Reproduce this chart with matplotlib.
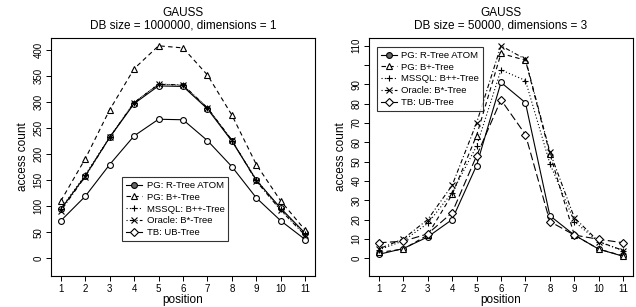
import matplotlib
matplotlib.use("Agg")
import matplotlib.pyplot as plt
from matplotlib.lines import Line2D

plt.rcParams['font.family'] = ['Liberation Sans', 'DejaVu Sans']

positions = list(range(1, 12))
series_names = ["PG: R-Tree ATOM", "PG: B+-Tree", "MSSQL: B++-Tree",
                "Oracle: B*-Tree", "TB: UB-Tree"]

# left: DB size = 1000000, dimensions = 1
left_rtree = [94, 158, 232, 297, 331, 330, 287, 225, 150, 96, 48]
left_bplus = [110, 191, 285, 364, 408, 404, 352, 275, 180, 110, 54]
left_mssql = [95, 160, 233, 299, 335, 332, 289, 226, 151, 94, 46]
left_oracle = [91, 157, 232, 299, 334, 333, 289, 227, 148, 92, 44]
left_tb = [72, 119, 180, 235, 267, 266, 226, 176, 116, 72, 36]

# right: DB size = 50000, dimensions = 3
right_rtree = [2, 5, 11, 20, 48, 91, 80.5, 22, 12, 4.7, 1]
right_bplus = [3, 4.7, 12, 33, 63.5, 106, 102.5, 54, 12, 4.7, 1.2]
right_mssql = [4.3, 9, 18, 34, 58, 97.5, 92, 49, 19, 8.4, 4]
right_oracle = [4.8, 10, 20, 37.7, 70, 110, 103, 55, 21, 8.6, 4]
right_tb = [8, 8.8, 12.6, 23.6, 53, 82, 64, 19, 12, 9.8, 8]

fig = plt.figure(figsize=(6.36, 3.07), dpi=100)
ax1 = fig.add_axes([51/636, 31/307, 264/636, 238/307])
ax2 = fig.add_axes([369/636, 31/307, 264/636, 238/307])

lw = 0.8
ms = 4.2
common = dict(color='black', lw=lw, ms=ms, mfc='white', mew=0.8)

# left panel (lowest series drawn with circles, as in the original)
ax1.plot(positions, left_rtree, ls='-', marker='o', **common)
ax1.plot(positions, left_bplus, ls=(0, (4, 3)), marker='^', **common)
ax1.plot(positions, left_mssql, ls=(0, (1, 2)), marker='+', **common)
ax1.plot(positions, left_oracle, ls=(0, (1, 2, 4, 2)), marker='x', **common)
ax1.plot(positions, left_tb, ls='-', marker='o', **common)

ax2.plot(positions, right_rtree, ls='-', marker='o', **common)
ax2.plot(positions, right_bplus, ls=(0, (4, 3)), marker='^', **common)
ax2.plot(positions, right_mssql, ls=(0, (1, 2)), marker='+', **common)
ax2.plot(positions, right_oracle, ls=(0, (1, 2, 4, 2)), marker='x', **common)
ax2.plot(positions, right_tb, ls=(0, (7, 3)), marker='D', color='black',
         lw=lw, ms=3.6, mfc='white', mew=0.8)

handles = [
    Line2D([], [], color='black', lw=lw, ls='-', marker='o', ms=ms, mfc='0.4', mew=0.8),
    Line2D([], [], color='black', lw=lw, ls=(0, (4, 3)), marker='^', ms=ms, mfc='white', mew=0.8),
    Line2D([], [], color='black', lw=lw, ls=(0, (1, 2)), marker='+', ms=ms, mew=0.8),
    Line2D([], [], color='black', lw=lw, ls=(0, (1, 2, 4, 2)), marker='x', ms=ms, mew=0.8),
    Line2D([], [], color='black', lw=lw, ls='-', marker='D', ms=3.6, mfc='white', mew=0.8),
]

titles = ["GAUSS\nDB size = 1000000, dimensions = 1",
          "GAUSS\nDB size = 50000, dimensions = 3"]

for ax, title in zip([ax1, ax2], titles):
    ax.set_xlim(0.6, 11.4)
    ax.set_xticks(positions)
    ax.set_title(title, fontsize=8.5, pad=7, linespacing=1.05)
    ax.set_xlabel("position", fontsize=8.5, labelpad=0.5)
    ax.set_ylabel("access count", fontsize=8.5, labelpad=3)
    ax.tick_params(direction='out', length=3.5, width=0.7, labelsize=7, pad=2)
    for s in ax.spines.values():
        s.set_linewidth(0.8)

ax1.set_ylim(-34, 423)
ax1.set_yticks(range(0, 401, 50))
ax1.set_yticklabels([str(v) for v in range(0, 401, 50)], rotation=90, va='center')

ax2.set_ylim(-9.2, 114)
ax2.set_yticks(range(0, 111, 10))
ax2.set_yticklabels([str(v) if v != 100 else '' for v in range(0, 111, 10)],
                    rotation=90, va='center')

leg_kw = dict(fontsize=6.8, frameon=True, fancybox=False, edgecolor='black',
              handlelength=1.7, handletextpad=0.5, borderpad=0.4,
              labelspacing=0.3, borderaxespad=0)
leg1 = ax1.legend(handles, series_names, loc='lower left',
                  bbox_to_anchor=(0.27, 0.147), **leg_kw)
leg2 = ax2.legend(handles, series_names, loc='upper left',
                  bbox_to_anchor=(0.03, 0.962), **leg_kw)
for leg in (leg1, leg2):
    leg.get_frame().set_linewidth(0.8)

fig.savefig("out.png", dpi=100)
